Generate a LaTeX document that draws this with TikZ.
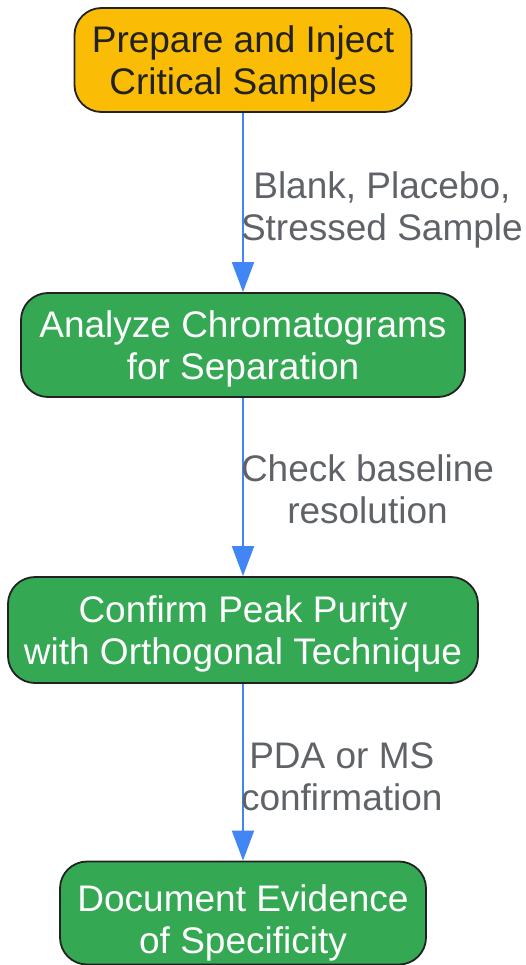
\documentclass[tikz,border=0pt]{standalone}
\usepackage{fontspec}
\setmainfont{Liberation Sans}
\usetikzlibrary{arrows.meta}
\definecolor{stepyellow}{HTML}{FBBC05}
\definecolor{stepgreen}{HTML}{34A853}
\definecolor{flowblue}{HTML}{4285F4}
\definecolor{labelgrey}{HTML}{5F6368}
\definecolor{edgeblack}{HTML}{222222}
\begin{document}
\begin{tikzpicture}[x=1pt,y=-1pt,
  main node/.style={rectangle,rounded corners=27pt,draw=edgeblack,line width=1.8pt,
    align=center,inner sep=0pt,minimum height=104pt,text depth=-2pt,
    font=\fontsize{37}{42}\selectfont},
  start node/.style={main node,fill=stepyellow,text=edgeblack},
  work node/.style={main node,fill=stepgreen,text=white},
  flow/.style={draw=flowblue,line width=2pt,-{Triangle[length=30pt,width=22pt]}},
  flow label/.style={anchor=west,xshift=-3pt,align=center,inner sep=0pt,
    text=labelgrey,font=\fontsize{37}{42}\selectfont}]

  \useasboundingbox (0,0) rectangle (525,965);

  \node[start node,minimum width=337pt] (prep) at (243,60) {Prepare and Inject\\Critical Samples};
  \node[work node,minimum width=444pt] (anal) at (243,345) {Analyze Chromatograms\\for Separation};
  \node[work node,minimum width=470pt,minimum height=106pt] (conf) at (243,630) {Confirm Peak Purity\\with Orthogonal Technique};
  \node[work node,minimum width=366pt,minimum height=103pt] (docu) at (243,913) {\rule{0pt}{38pt}Document Evidence\\of Specificity};

  \path
   (prep) edge[flow] node[flow label,yshift=-7pt]{Blank, Placebo,\\Stressed Sample} (anal)
   (anal) edge[flow] node[flow label,yshift=-2pt]{Check baseline\\resolution} (conf)
   (conf) edge[flow] node[flow label,yshift=-5pt]{PDA or MS\\confirmation} (docu);
\end{tikzpicture}
\end{document}
